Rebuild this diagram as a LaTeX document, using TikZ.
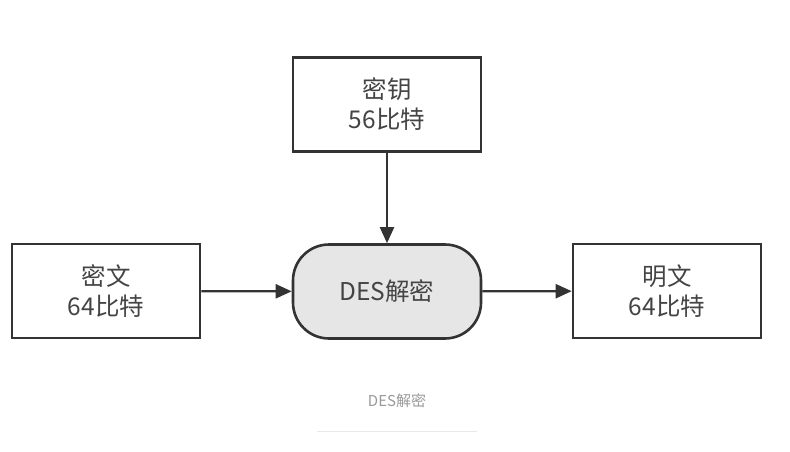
\documentclass[tikz,border=0pt]{standalone}
\usepackage{fontspec}
\setmainfont{Noto Sans CJK SC}
\usetikzlibrary{arrows.meta}
\definecolor{ink}{HTML}{333333}
\definecolor{txt}{HTML}{444444}
\definecolor{boxfill}{HTML}{E6E6E6}
\definecolor{cap}{HTML}{999999}
\definecolor{rule}{HTML}{E8E8E8}
\tikzset{
  box/.style={draw=ink, line width=2.6pt, fill=white, inner sep=0pt,
    minimum width=188pt, minimum height=94pt, align=center,
    font=\fontsize{24.5}{30}\selectfont, text=txt},
  proc/.style={box, fill=boxfill, rounded corners=36pt},
  conn/.style={draw=ink, line width=2.2pt, -{Triangle[length=16pt,width=14pt]}}
}
\begin{document}
\begin{tikzpicture}[x=1pt,y=-1pt]
\useasboundingbox[fill=white] (0,0) rectangle (790,452);
\node[box] (key) at (387,104.5) {密钥\\56比特};
\node[box] (cin) at (106,291) {密文\\64比特};
\node[proc] (des) at (387,291.5) {DES解密};
\node[box] (pout) at (667,291) {明文\\64比特};
\draw[conn] (key) -- (des);
\draw[conn] (cin) -- (des);
\draw[conn] (des) -- (pout);
\node[text=cap, font=\fontsize{15}{17}\selectfont, inner sep=0pt] (caption) at (397,401) {DES解密};
\coordinate (ruleL) at (317,431);
\coordinate (ruleR) at (477,431);
\draw[rule, line width=1pt] (ruleL) -- (ruleR);
\end{tikzpicture}
\end{document}
